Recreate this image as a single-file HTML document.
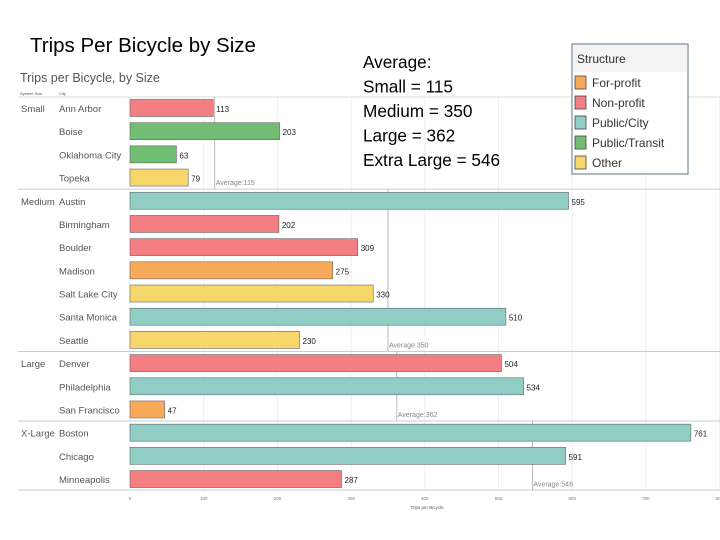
<!DOCTYPE html>
<html><head><meta charset="utf-8"><style>
body{margin:0;width:720px;height:540px;background:#fff;font-family:"Liberation Sans",sans-serif;overflow:hidden}
svg{position:absolute;left:0;top:0}
</style></head><body>
<svg id="c" width="720" height="540" xmlns="http://www.w3.org/2000/svg"></svg>
<script>
const cities=["Ann Arbor","Boise","Oklahoma City","Topeka","Austin","Birmingham","Boulder","Madison","Salt Lake City","Santa Monica","Seattle","Denver","Philadelphia","San Francisco","Boston","Chicago","Minneapolis"];
const values=[113,203,63,79,595,202,309,275,330,510,230,504,534,47,761,591,287];
const types=["Non-profit","Public/Transit","Public/Transit","Other","Public/City","Non-profit","Non-profit","For-profit","Other","Public/City","Other","Non-profit","Public/City","For-profit","Public/City","Public/City","Non-profit"];
const groups=["Small","Medium","Large","X-Large"];
const groupStart=[0,4,11,14];
const groupEnd=[3,10,13,16];
const averages=[115,350,362,546];
const ticks=[0,100,200,300,400,500,600,700,800];
const legendItems=["For-profit","Non-profit","Public/City","Public/Transit","Other"];
const colors={"For-profit":"#f8a95a","Non-profit":"#f47f83","Public/City":"#8fcdc5","Public/Transit":"#72bd74","Other":"#f7d66b"};
const ns="http://www.w3.org/2000/svg",svg=document.getElementById("c");
const x=v=>130+v*0.737, y=i=>108+i*23.19;
function el(t,a,txt){const e=document.createElementNS(ns,t);for(const k in a)e.setAttribute(k,a[k]);if(txt!=null)e.textContent=txt;svg.appendChild(e);return e;}
function t(x0,y0,s,size,fill,name,extra){const e=el("text",Object.assign({x:x0,y:y0,"font-size":size,fill:fill},extra||{}),s);return e;}
t(30,52,"Trips Per Bicycle by Size",20.5,"#000","slide-title");
t(20,82,"Trips per Bicycle, by Size",12.5,"#555","chart-title");
t(20,95,"System Size",4,"#555","size-header");t(59,95,"City",4,"#555","city-header");
ticks.forEach(v=>{const l=el("line",{x1:x(v),x2:x(v),y1:97,y2:490,stroke:"#eee","stroke-width":1});
t(x(v),500,String(v),4.5,"#777","x-tick",{"text-anchor":"middle"});});
el("line",{x1:18,x2:720,y1:97,y2:97,stroke:"#ddd"});
el("line",{x1:18,x2:720,y1:490,y2:490,stroke:"#ccc"});
t(427,509,"Trips per Bicycle",4.5,"#555","x-axis-title",{"text-anchor":"middle"});
groups.forEach((g,gi)=>{
 const yt=y(groupStart[gi])-11.6, yb=y(groupEnd[gi])+11.6;
 if(gi>0){const l=el("line",{x1:18,x2:720,y1:yt,y2:yt,stroke:"#ccc"});}
 t(21,y(groupStart[gi])+4,g,9.5,"#555","group-label");
 const ax=x(averages[gi]);
 const a=el("line",{x1:ax,x2:ax,y1:yt,y2:yb,stroke:"#aaa","stroke-width":0.8});
 t(ax+1,yb-4,"Average:"+averages[gi],7,"#888","average-label");
});
cities.forEach((c,i)=>{
 t(59,y(i)+4,c,9.5,"#555","city-label");
 const r=el("rect",{x:x(0),y:y(i)-8.5,width:x(values[i])-x(0),height:17,fill:colors[types[i]],stroke:"#666","stroke-width":0.6});
 
 t(x(values[i])+3,y(i)+4,String(values[i]),8,"#222","bar-value");
});
const lb=el("rect",{x:572,y:44,width:116,height:130,fill:"#fff",stroke:"#7a8a99","stroke-width":1.2});
el("rect",{x:573,y:45,width:114,height:27,fill:"#f3f3f3"});
t(577,63,"Structure",12,"#333","legend-title");
legendItems.forEach((s,i)=>{const yy=83+i*20;
 const r=el("rect",{x:575,y:yy-7,width:11,height:13,fill:colors[s],stroke:"#444","stroke-width":0.8});
 t(592,yy+4,s,12,"#333","legend-entry");});
["Average:","Small = 115","Medium = 350","Large = 362","Extra Large = 546"].forEach((s,i)=>t(363,68+i*24.5,s,17.2,"#000","average-note-"+i));
</script>
</body></html>
